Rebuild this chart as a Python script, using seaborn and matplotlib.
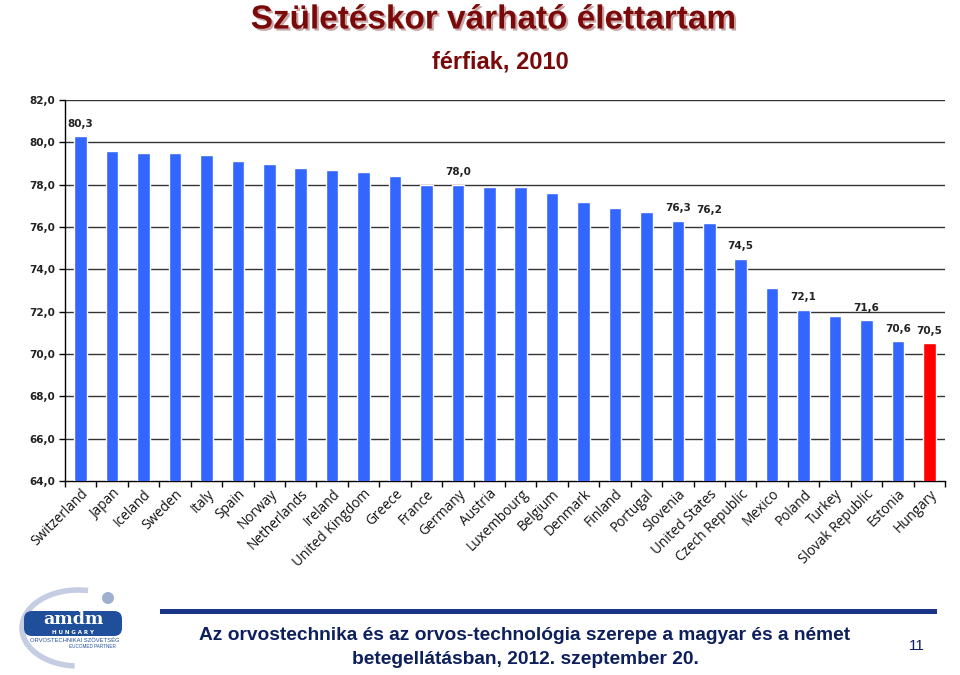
import matplotlib
matplotlib.use("Agg")
import matplotlib.pyplot as plt
import matplotlib.patheffects as pe
import seaborn as sns
import numpy as np
import pandas as pd
from matplotlib.patches import FancyBboxPatch, Rectangle, Arc, Circle

countries = ["Switzerland", "Japan", "Iceland", "Sweden", "Italy", "Spain", "Norway",
             "Netherlands", "Ireland", "United Kingdom", "Greece", "France", "Germany",
             "Austria", "Luxembourg", "Belgium", "Denmark", "Finland", "Portugal",
             "Slovenia", "United States", "Czech Republic", "Mexico", "Poland", "Turkey",
             "Slovak Republic", "Estonia", "Hungary"]
values = [80.3, 79.6, 79.5, 79.5, 79.4, 79.1, 79.0, 78.8, 78.7, 78.6, 78.4, 78.0, 78.0,
          77.9, 77.9, 77.6, 77.2, 76.9, 76.7, 76.3, 76.2, 74.5, 73.1, 72.1, 71.8,
          71.6, 70.6, 70.5]
labeled = ["Switzerland", "Germany", "Slovenia", "United States", "Czech Republic",
           "Poland", "Slovak Republic", "Estonia", "Hungary"]
yticks = [64, 66, 68, 70, 72, 74, 76, 78, 80, 82]

sns.set_theme(style="white")
plt.rcParams['font.family'] = ['DejaVu Sans']

df = pd.DataFrame({"country": countries, "value": values})
palette = {c: ("#ff0000" if c == "Hungary" else "#3366ff") for c in countries}

fig = plt.figure(figsize=(9.6, 6.75), dpi=100)

# overlay in pixel coordinates for decorations
deco = fig.add_axes([0, 0, 1, 1], zorder=0)
deco.set_xlim(0, 960)
deco.set_ylim(675, 0)
deco.axis("off")

ax = fig.add_axes([65/960, 1-481/675, 880/960, 381/675], zorder=1)
ax.patch.set_alpha(0)

sns.barplot(data=df, x="country", y="value", hue="country", palette=palette,
            legend=False, width=0.4, ax=ax, saturation=1, zorder=3)

ax.set_ylim(64, 82)
ax.set_xlim(-0.5, len(countries)-0.5)
ax.set_yticks(yticks)
ax.set_yticklabels([f"{v:.1f}".replace(".", ",") for v in yticks],
                   fontsize=7.5, fontweight="bold", color="#222222")
for y in yticks[1:]:
    ax.axhline(y, color="#333333", lw=1.0, zorder=1)

ax.set_xticks(range(len(countries)))
ax.set_xticklabels(countries, rotation=45, ha="right", rotation_mode="anchor",
                   fontsize=9.8, family="Open Sans", color="#111111")
ax.tick_params(axis="x", which="major", length=0, pad=4)
ax.set_xticks(np.arange(-0.5, len(countries), 1), minor=True)
ax.tick_params(axis="x", which="minor", length=4, width=1, color="black", bottom=True)
ax.tick_params(axis="y", which="major", length=4, width=1, color="black", left=True, pad=3)

ax.set_xlabel("")
ax.set_ylabel("")
for s in ["top", "right"]:
    ax.spines[s].set_visible(False)
for s in ["left", "bottom"]:
    ax.spines[s].set_color("black")
    ax.spines[s].set_linewidth(1)

for i, (c, v) in enumerate(zip(countries, values)):
    if c in labeled:
        ax.text(i, v + 0.35, f"{v:.1f}".replace(".", ","), ha="center", va="bottom",
                fontsize=7.5, fontweight="bold", color="#222222", zorder=4)

# Titles
title_font = ['Liberation Sans Narrow', 'Liberation Sans', 'DejaVu Sans']
shadow = [pe.withSimplePatchShadow(offset=(1.5, -1.5), shadow_rgbFace="#c9a5a5", alpha=1.0)]
deco.text(494, 20, "Születéskor várható élettartam", ha="center", va="center",
          fontsize=24, fontweight="bold", color="#7a0a0a", family=title_font,
          path_effects=shadow)
deco.text(500, 62, "férfiak, 2010", ha="center", va="center",
          fontsize=17, fontweight="bold", color="#7a0a0a", family=title_font)

# Footer
deco.add_patch(Rectangle((160, 609), 777, 4.5, color="#1a3487", lw=0))
deco.text(525, 636, "Az orvostechnika és az orvos-technológia szerepe a magyar és a német",
          ha="center", va="center", fontsize=13.8, fontweight="bold", color="#0d1f5c",
          family=title_font)
deco.text(525, 660, "betegellátásban, 2012. szeptember 20.",
          ha="center", va="center", fontsize=13.8, fontweight="bold", color="#0d1f5c",
          family=title_font)
deco.text(917, 646, "11", ha="center", va="center", fontsize=11,
          color="#0d1f5c", family=title_font)

# Logo approximation
deco.add_patch(Arc((78, 628), 112, 76, theta1=95, theta2=285, color="#c5cde3", lw=4))
deco.add_patch(Circle((108, 598), 6, color="#9fb0cf", lw=0))
deco.add_patch(FancyBboxPatch((24, 611), 98, 25,
                              boxstyle="round,pad=0,rounding_size=8",
                              color="#1f4e9a", lw=0))
deco.text(73, 619, "amdm", ha="center", va="center", fontsize=12.5,
          fontweight="bold", color="white", family="DejaVu Serif")
deco.text(73, 632, "H U N G A R Y", ha="center", va="center", fontsize=4,
          fontweight="bold", color="white")
deco.text(75, 640, "ORVOSTECHNIKAI SZÖVETSÉG", ha="center", va="center",
          fontsize=4.2, color="#1f4e9a", family=title_font)
deco.text(116, 647, "EUCOMED PARTNER", ha="right", va="center",
          fontsize=3.3, color="#1f4e9a", family=title_font)

fig.savefig("out.png", dpi=100)
